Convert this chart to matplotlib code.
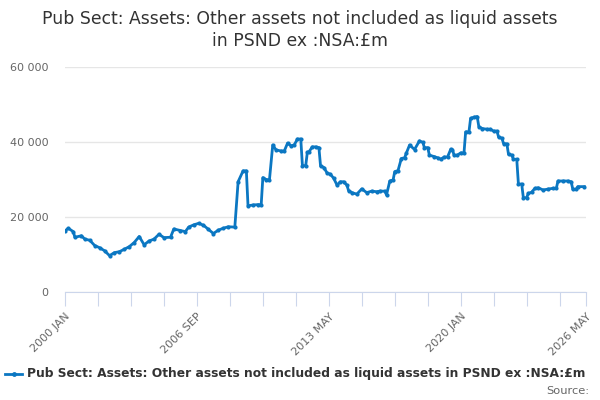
import matplotlib
matplotlib.use('Agg')
import matplotlib.pyplot as plt
from matplotlib.ticker import FuncFormatter

# Months counted from 2000 JAN, and value in £m
months = [0, 2, 5, 6, 10, 12, 15, 18, 21, 24, 27, 30, 33, 36, 39, 42, 45, 48, 51, 54,
          57, 60, 64, 66, 70, 73, 75, 78, 81, 84, 87, 90, 93, 96, 99, 103,
          105, 108, 110, 111, 114, 117, 119, 120, 122, 124, 126, 128, 131, 133, 135,
          137, 139, 141, 143, 144, 146, 147, 148, 150, 152, 154, 155, 157, 159, 161,
          163, 165, 167, 169, 171, 172, 174, 177, 180, 183, 186, 189, 191, 194, 195,
          197, 199, 200, 202, 204, 206, 207, 209, 212, 215, 217, 218, 220, 221, 224,
          226, 228, 230, 232, 234, 235, 236, 238, 240, 242, 243, 245, 246, 248, 250,
          251, 253, 256, 258, 260, 262, 263, 265, 266, 268, 269, 271, 272, 274, 275,
          277, 278, 280, 281, 283, 285, 287, 290, 293, 296, 298, 299, 302, 305, 307,
          308, 310, 311, 315]
values = [16300, 17000, 16100, 14600, 15000, 14100, 13800, 12400, 11800, 11000, 9700,
          10500, 10750, 11400, 12100, 13200, 14800, 12600, 13600, 14100, 15400, 14500,
          14600, 16800, 16400, 16100, 17300, 17900, 18300, 17800, 16700, 15600, 16500,
          17000, 17400, 17300,
          29400, 32300, 32300, 23000, 23200, 23300, 23300, 30500, 30000, 29900, 39200,
          37900, 37600, 37600, 39700, 39000, 39200, 40800, 40800, 33700, 33700, 37300,
          37400, 38700, 38700, 38500, 33600, 33200, 31700, 31400, 30300, 28500, 29400,
          29400, 28500, 27000, 26500, 26100, 27500, 26500, 26900, 26750, 26900, 26900,
          25900, 29600, 29900, 32100, 32400, 35600, 35800, 37000, 39200, 38000, 40300,
          39900, 38500, 38500, 36500, 36100, 35800, 35400, 36000, 36000, 38100, 37900,
          36500, 36500, 37100, 37100, 42700, 42700, 46300, 46600, 46800, 44100, 43600,
          43400, 43400, 42900, 42900, 41300, 41000, 39600, 39500, 36700, 36500, 35400,
          35400, 28800, 28800, 25150, 25150, 26300, 26600, 27650, 27800, 27200, 27450,
          27650, 27650, 29600, 29600, 29600, 29400, 27400, 27400, 28100, 28100]

tick_months = list(range(0, 301, 20)) + [316]
label_months = [0, 80, 160, 240, 316]
label_text = ['2000 JAN', '2006 SEP', '2013 MAY', '2020 JAN', '2026 MAY']

title = 'Pub Sect: Assets: Other assets not included as liquid assets\nin PSND ex :NSA:£m'
series_name = 'Pub Sect: Assets: Other assets not included as liquid assets in PSND ex :NSA:£m'

line_col = '#0b77c2'

fig = plt.figure(figsize=(6, 4), dpi=100)
ax = fig.add_axes([65 / 600, 1 - 292 / 400, 521 / 600, 225 / 400])

ax.plot(months, values, color=line_col, linewidth=2, marker='o', markersize=3,
        markeredgewidth=0, solid_joinstyle='round')

ax.set_xlim(0, 316)
ax.set_ylim(0, 60000)
ax.set_yticks([0, 20000, 40000, 60000])
ax.yaxis.set_major_formatter(FuncFormatter(lambda v, p: f'{int(v):,}'.replace(',', ' ')))
ax.grid(axis='y', color='#e6e6e6', linewidth=1)
ax.set_axisbelow(True)

ax.set_xticks(tick_months)
ax.set_xticklabels([label_text[label_months.index(m)] if m in label_months else '' for m in tick_months],
                   rotation=45, ha='right', rotation_mode='anchor')

for s in ['top', 'right', 'left']:
    ax.spines[s].set_visible(False)
ax.spines['bottom'].set_color('#ccd6eb')
ax.tick_params(axis='x', length=10, color='#ccd6eb', labelcolor='#666666', labelsize=8, pad=4)
ax.tick_params(axis='y', length=0, labelcolor='#666666', labelsize=8, pad=12)

fig.text(0.5, 1 - 30 / 400, title, ha='center', va='center', fontsize=12.4, color='#333333',
         linespacing=1.3)

# legend drawn by hand at the bottom
ly = 1 - 374 / 400
fig.add_artist(plt.Line2D([5 / 600, 22 / 600], [ly, ly], transform=fig.transFigure,
                          color=line_col, linewidth=2))
fig.add_artist(plt.Line2D([13.5 / 600], [ly], transform=fig.transFigure,
                          color=line_col, marker='o', markersize=3.5, markeredgewidth=0))
fig.text(27 / 600, ly, series_name, ha='left', va='center', fontsize=8.8,
         fontweight='bold', color='#333333')
fig.text(589 / 600, 1 - 391 / 400, 'Source:', ha='right', va='center', fontsize=8.2,
         color='#666666')

fig.savefig('out.png', dpi=100)
